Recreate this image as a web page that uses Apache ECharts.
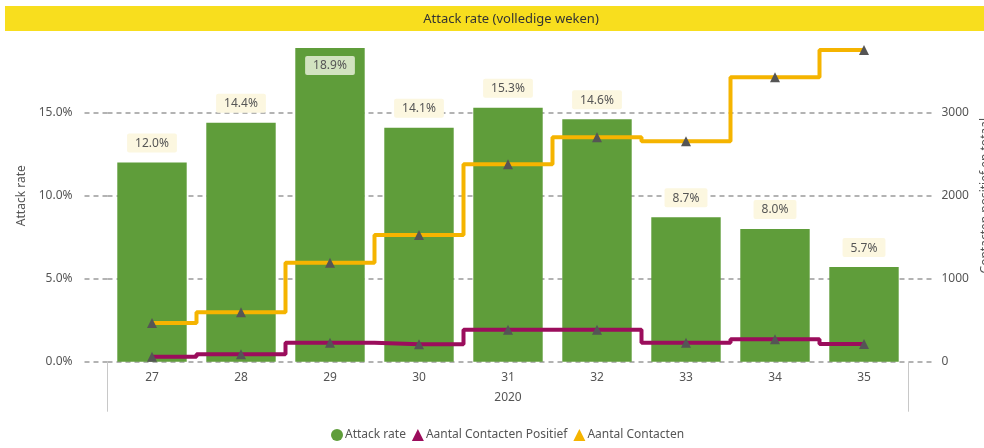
<!DOCTYPE html>
<html>
<head>
<meta charset="utf-8">
<script src="https://cdn.jsdelivr.net/npm/echarts@6/dist/echarts.min.js"></script>
<style>
html,body{margin:0;padding:0;background:#fff;}
#c{width:984px;height:448px;}
</style>
</head>
<body>
<div id="c"></div>
<script>
var weeks = ['27','28','29','30','31','32','33','34','35'];
var yearLabel = ['2020'];
var attackRate = [12.0, 14.4, 18.9, 14.1, 15.3, 14.6, 8.7, 8.0, 5.7];
var contactenPositief = [60, 89, 229, 210, 385, 385, 229, 270, 213];
var contactenTotaal = [465, 595, 1193, 1527, 2378, 2704, 2655, 3427, 3755];

var FONT = 'Noto Sans';
var chart = echarts.init(document.getElementById('c'), null, {renderer: 'canvas'});

var dashed = {color: '#9a9a9a', type: [5, 4], width: 1.5};

var barData = attackRate.map(function (v) {
  if (v === Math.max.apply(null, attackRate)) {
    return {value: v, label: {position: 'insideTop', distance: 8, backgroundColor: '#d2e3c0'}};
  }
  return v;
});

chart.setOption({
  animation: false,
  textStyle: {fontFamily: FONT},
  title: {
    text: 'Attack rate (volledige weken)',
    left: 506, textAlign: 'center', top: 8,
    textStyle: {fontFamily: FONT, fontSize: 13, fontWeight: 'normal', color: '#333'},
    z: 20
  },
  graphic: [{
    type: 'rect', left: 5, top: 6, z: 10,
    shape: {width: 979, height: 25},
    style: {fill: '#f8de1e'}
  }],
  grid: {left: 107.5, right: 75.5, top: 29.7, bottom: 86.3, containLabel: false, outerBoundsMode: 'none'},
  legend: {
    bottom: 2, left: 326,
    itemWidth: 12, itemHeight: 12, itemGap: 6,
    textStyle: {fontFamily: FONT, fontSize: 12, color: '#555', padding: [0, 0, 0, -3]},
    data: [
      {name: 'Attack rate', icon: 'circle', itemStyle: {color: '#5f9d3a'}},
      {name: 'Aantal Contacten Positief', icon: 'triangle', itemStyle: {color: '#9b0d5c'}},
      {name: 'Aantal Contacten', icon: 'triangle', itemStyle: {color: '#f5b400'}}
    ]
  },
  xAxis: [{
    type: 'category', data: weeks,
    axisLine: {show: false}, axisTick: {show: false},
    axisLabel: {margin: 10, fontSize: 12, color: '#555', fontFamily: FONT}
  }, {
    type: 'category', data: yearLabel, position: 'bottom',
    axisLine: {show: false},
    axisTick: {show: true, length: 50, lineStyle: {color: '#c8c8c8', width: 1}},
    axisLabel: {margin: 30, fontSize: 12, color: '#555', fontFamily: FONT}
  }],
  yAxis: [{
    type: 'value', min: 0, max: 20, interval: 5,
    name: 'Attack rate', nameLocation: 'middle', nameGap: 80, nameRotate: 90,
    nameTextStyle: {fontSize: 12, color: '#555', fontFamily: FONT},
    axisLine: {show: false},
    axisTick: {show: true, length: 25, lineStyle: dashed},
    axisLabel: {margin: 35, fontSize: 12, color: '#555', fontFamily: FONT, showMaxLabel: false,
      formatter: function (v) { return v.toFixed(1) + '%'; }},
    splitLine: {show: true, showMaxLine: false, lineStyle: dashed}
  }, {
    type: 'value', min: 0, max: 4000, interval: 1000, position: 'right',
    name: 'Contacten positief en totaal', nameLocation: 'middle', nameGap: 66, nameRotate: 90,
    nameTextStyle: {fontSize: 12, color: '#555', fontFamily: FONT},
    axisLine: {show: false},
    axisTick: {show: true, length: 26, lineStyle: dashed},
    axisLabel: {margin: 33, fontSize: 12, color: '#555', fontFamily: FONT, showMaxLabel: false,
      formatter: function (v) { return String(v); }},
    splitLine: {show: false}
  }],
  series: [{
    name: 'Attack rate', type: 'bar', data: barData,
    barCategoryGap: '22%',
    itemStyle: {color: '#5f9d3a'},
    label: {
      show: true, position: 'top', distance: 10,
      backgroundColor: '#fcf7e0', padding: [4, 8, 3, 8], borderRadius: 2,
      color: '#555', fontSize: 12, fontFamily: FONT,
      formatter: function (p) { return p.value.toFixed(1) + '%'; }
    },
    z: 2
  }, {
    name: 'Aantal Contacten', type: 'line', yAxisIndex: 1, data: contactenTotaal,
    step: 'middle', symbol: 'triangle', symbolSize: 10,
    itemStyle: {color: '#555555'},
    lineStyle: {color: '#f5b400', width: 4},
    z: 3
  }, {
    name: 'Aantal Contacten Positief', type: 'line', yAxisIndex: 1, data: contactenPositief,
    step: 'middle', symbol: 'triangle', symbolSize: 10,
    itemStyle: {color: '#555555'},
    lineStyle: {color: '#9b0d5c', width: 4},
    z: 4
  }]
});
</script>
</body>
</html>
